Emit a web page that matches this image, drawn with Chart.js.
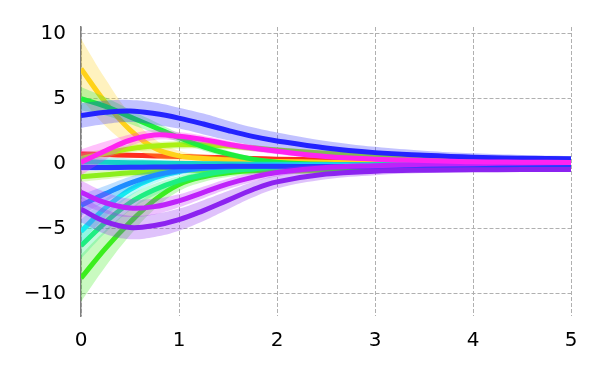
<!DOCTYPE html>
<html><head><meta charset="utf-8">
<script src="https://cdn.jsdelivr.net/npm/chart.js@4"></script>
<style>html,body{margin:0;padding:0;background:#fff}</style>
</head><body>
<canvas id="c" width="600" height="375"></canvas>
<script>
// ---- data ----
const xs = [0, 0.25, 0.5, 0.75, 1, 1.25, 1.5, 1.75, 2, 2.5, 3, 3.5, 4, 4.5, 5];
const xTicks = [0, 1, 2, 3, 4, 5];
const yTicks = [-10, -5, 0, 5, 10];

const redMean      = [0.75, 0.7, 0.65, 0.6, 0.55, 0.5, 0.45, 0.4, 0.35, 0.28, 0.2, 0.15, 0.1, 0.08, 0.05];
const redSpread    = [0.2, 0.18, 0.16, 0.15, 0.15, 0.14, 0.13, 0.12, 0.11, 0.1, 0.09, 0.08, 0.07, 0.06, 0.05];
const yellowMean   = [7.3, 4.7, 2.6, 1.2, 0.6, 0.4, 0.3, 0.22, 0.17, 0.12, 0.08, 0.06, 0.05, 0.04, 0.03];
const yellowSpread = [2.3, 1.8, 1.2, 0.7, 0.4, 0.3, 0.22, 0.18, 0.15, 0.12, 0.1, 0.08, 0.07, 0.06, 0.05];
const limeHiMean   = [0.4, 0.8, 1.15, 1.35, 1.45, 1.45, 1.35, 1.2, 1.05, 0.8, 0.55, 0.4, 0.25, 0.15, 0.1];
const limeHiSpread = [0.4, 0.35, 0.3, 0.3, 0.3, 0.28, 0.26, 0.24, 0.22, 0.2, 0.17, 0.14, 0.12, 0.1, 0.08];
const limeLoMean   = [-1.0, -0.85, -0.7, -0.6, -0.5, -0.5, -0.5, -0.52, -0.55, -0.55, -0.5, -0.45, -0.4, -0.35, -0.3];
const limeLoSpread = [0.4, 0.35, 0.3, 0.28, 0.26, 0.24, 0.22, 0.2, 0.18, 0.16, 0.14, 0.12, 0.1, 0.08, 0.07];
const greenHiMean  = [5.0, 4.4, 3.6, 2.8, 2.0, 1.3, 0.75, 0.35, 0.12, -0.05, -0.1, -0.1, -0.1, -0.1, -0.1];
const greenHiSpread= [0.9, 0.7, 0.55, 0.45, 0.35, 0.3, 0.25, 0.2, 0.17, 0.14, 0.12, 0.1, 0.08, 0.07, 0.06];
const greenLoMean  = [-8.8, -6.5, -4.5, -2.8, -1.6, -1.0, -0.7, -0.55, -0.47, -0.4, -0.35, -0.3, -0.25, -0.2, -0.2];
const greenLoSpread= [1.8, 1.4, 1.0, 0.7, 0.5, 0.4, 0.32, 0.28, 0.24, 0.2, 0.16, 0.13, 0.1, 0.08, 0.07];
const springMean   = [-6.3, -4.5, -3.0, -2.0, -1.3, -0.85, -0.55, -0.4, -0.3, -0.2, -0.1, -0.05, 0.0, 0.0, 0.0];
const springSpread = [1.0, 0.8, 0.6, 0.45, 0.35, 0.3, 0.25, 0.2, 0.18, 0.15, 0.12, 0.1, 0.08, 0.07, 0.06];
const tealMean     = [0.15, 0.12, 0.08, 0.05, 0.02, 0.0, -0.02, -0.04, -0.05, -0.06, -0.08, -0.08, -0.08, -0.08, -0.08];
const tealSpread   = [0.4, 0.35, 0.3, 0.25, 0.2, 0.18, 0.16, 0.14, 0.12, 0.1, 0.08, 0.07, 0.06, 0.05, 0.05];
const cyanMean     = [-5.2, -3.4, -2.0, -1.1, -0.6, -0.35, -0.22, -0.15, -0.12, -0.12, -0.15, -0.17, -0.2, -0.2, -0.2];
const cyanSpread   = [0.9, 0.7, 0.5, 0.4, 0.3, 0.25, 0.2, 0.17, 0.15, 0.12, 0.1, 0.08, 0.07, 0.06, 0.05];
const azureMean    = [-3.2, -2.3, -1.5, -0.9, -0.55, -0.35, -0.25, -0.2, -0.2, -0.2, -0.22, -0.22, -0.22, -0.22, -0.22];
const azureSpread  = [0.8, 0.6, 0.5, 0.35, 0.28, 0.22, 0.18, 0.15, 0.13, 0.11, 0.09, 0.08, 0.07, 0.06, 0.05];
const blueHiMean   = [3.7, 3.95, 4.05, 3.85, 3.5, 3.05, 2.55, 2.1, 1.75, 1.2, 0.85, 0.65, 0.5, 0.42, 0.38];
const blueHiSpread = [0.95, 0.9, 0.85, 0.85, 0.8, 0.8, 0.75, 0.7, 0.65, 0.55, 0.45, 0.35, 0.3, 0.25, 0.2];
const blueLoMean   = [-0.3, -0.3, -0.28, -0.26, -0.24, -0.22, -0.2, -0.2, -0.2, -0.22, -0.25, -0.28, -0.3, -0.3, -0.3];
const blueLoSpread = [0.25, 0.22, 0.2, 0.18, 0.16, 0.15, 0.14, 0.13, 0.12, 0.1, 0.09, 0.08, 0.07, 0.06, 0.05];
const violetMean   = [-3.5, -4.45, -4.9, -4.75, -4.3, -3.6, -2.8, -2.0, -1.4, -0.8, -0.58, -0.5, -0.47, -0.45, -0.45];
const violetSpread = [1.0, 0.95, 0.9, 0.88, 0.85, 0.8, 0.7, 0.6, 0.5, 0.4, 0.3, 0.22, 0.16, 0.12, 0.1];
const purpleMean   = [-2.2, -3.0, -3.4, -3.3, -2.85, -2.2, -1.55, -1.05, -0.68, -0.3, -0.15, -0.05, 0.0, 0.05, 0.1];
const purpleSpread = [0.9, 0.8, 0.7, 0.6, 0.5, 0.45, 0.4, 0.35, 0.3, 0.25, 0.2, 0.16, 0.13, 0.1, 0.08];
const magentaMean  = [0.1, 1.0, 1.8, 2.2, 2.1, 1.85, 1.5, 1.2, 0.95, 0.55, 0.35, 0.25, 0.15, 0.12, 0.1];
const magentaSpread= [1.0, 0.7, 0.45, 0.38, 0.33, 0.3, 0.27, 0.24, 0.22, 0.18, 0.14, 0.11, 0.09, 0.08, 0.07];

// bottom-to-top drawing order
const series = [
  {mean: redMean,     spread: redSpread,     color: [255, 45, 30]},
  {mean: yellowMean,  spread: yellowSpread,  color: [255, 210, 25]},
  {mean: limeHiMean,  spread: limeHiSpread,  color: [170, 240, 20]},
  {mean: limeLoMean,  spread: limeLoSpread,  color: [140, 238, 30]},
  {mean: greenHiMean, spread: greenHiSpread, color: [30, 238, 60]},
  {mean: greenLoMean, spread: greenLoSpread, color: [60, 238, 30]},
  {mean: springMean,  spread: springSpread,  color: [30, 238, 130]},
  {mean: tealMean,    spread: tealSpread,    color: [20, 210, 200]},
  {mean: cyanMean,    spread: cyanSpread,    color: [20, 235, 240]},
  {mean: azureMean,   spread: azureSpread,   color: [30, 140, 255]},
  {mean: blueHiMean,  spread: blueHiSpread,  color: [35, 35, 255]},
  {mean: blueLoMean,  spread: blueLoSpread,  color: [35, 60, 255]},
  {mean: violetMean,  spread: violetSpread,  color: [140, 35, 240]},
  {mean: purpleMean,  spread: purpleSpread,  color: [190, 35, 250]},
  {mean: magentaMean, spread: magentaSpread, color: [255, 35, 240]}
];

const rgba = (c, a) => `rgba(${c[0]},${c[1]},${c[2]},${a})`;
const datasets = [];
// Chart.js draws dataset 0 last (on top) -> build from top series down
for (let k = series.length - 1; k >= 0; k--) {
  const s = series[k];
  datasets.push({
    data: xs.map((x, i) => ({x, y: s.mean[i]})),
    borderColor: rgba(s.color, 1), borderWidth: 5, fill: false,
    tension: 0.4, pointRadius: 0
  });
  datasets.push({
    data: xs.map((x, i) => ({x, y: s.mean[i] + s.spread[i]})),
    borderColor: 'rgba(0,0,0,0)', borderWidth: 0, backgroundColor: rgba(s.color, 0.28),
    fill: '+1', tension: 0.4, pointRadius: 0
  });
  datasets.push({
    data: xs.map((x, i) => ({x, y: s.mean[i] - s.spread[i]})),
    borderColor: 'rgba(0,0,0,0)', borderWidth: 0, fill: false,
    tension: 0.4, pointRadius: 0
  });
}

const font = {family: 'DejaVu Sans', size: 20};
new Chart(document.getElementById('c'), {
  type: 'line',
  data: {datasets},
  options: {
    responsive: false, animation: false,
    layout: {padding: {top: 25, right: 29, left: 0, bottom: 0}},
    plugins: {legend: {display: false}, tooltip: {enabled: false}},
    elements: {point: {radius: 0}},
    scales: {
      x: {
        type: 'linear', min: 0, max: 5,
        afterBuildTicks: sc => { sc.ticks = xTicks.map(v => ({value: v})); },
        afterFit: sc => { sc.height = 59; },
        ticks: {font, color: '#000', padding: 13, maxRotation: 0, callback: v => String(v)},
        grid: {color: '#b0b0b0', lineWidth: 1, drawTicks: false},
        border: {display: false, dash: [4, 2]}
      },
      y: {
        min: -11.7, max: 10.5,
        afterBuildTicks: sc => { sc.ticks = yTicks.map(v => ({value: v})); },
        afterFit: sc => { sc.width = 81; },
        ticks: {font, color: '#000', padding: 15, callback: v => v < 0 ? '\u2212' + Math.abs(v) : String(v)},
        grid: {color: '#b0b0b0', lineWidth: 1, drawTicks: false},
        border: {display: true, color: '#808080', width: 1.5, dash: [4, 2]}
      }
    }
  }
});
</script>
</body></html>
